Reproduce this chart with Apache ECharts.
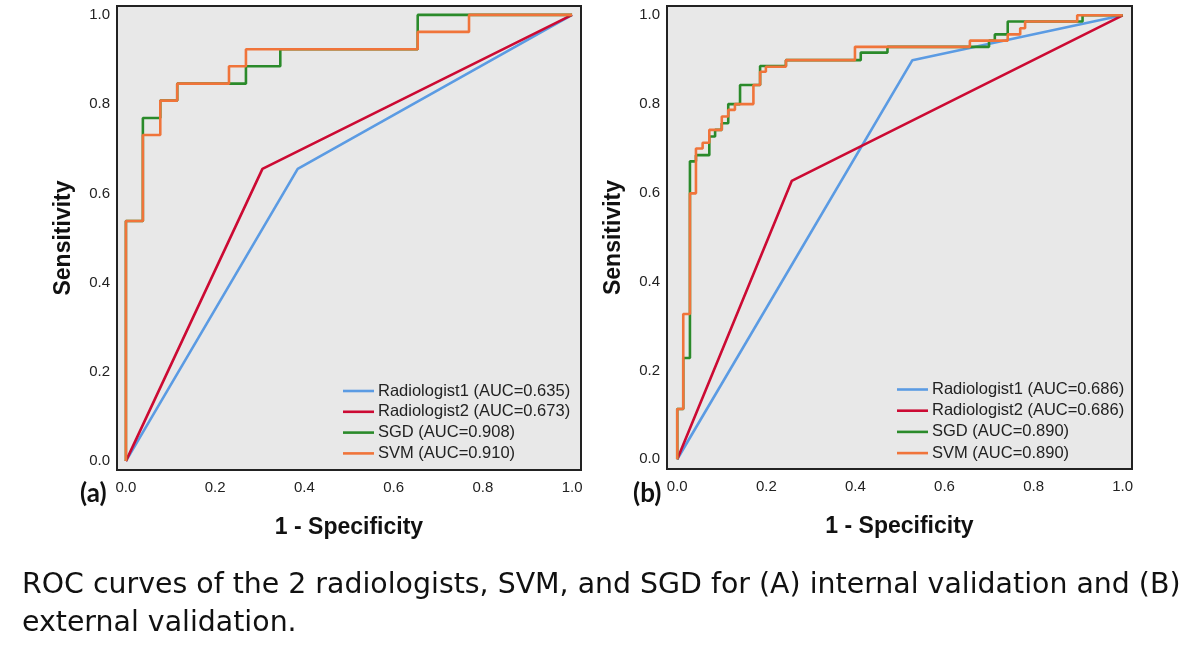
<!DOCTYPE html>
<html>
<head>
<meta charset="utf-8">
<script src="https://cdn.jsdelivr.net/npm/echarts@6/dist/echarts.min.js"></script>
<style>
html,body{margin:0;padding:0;background:#fff;}
#chart{width:1200px;height:667px;}
</style>
</head>
<body>
<div id="chart"></div>
<script>
// ---- data ----
const tickValues = [0, 0.2, 0.4, 0.6, 0.8, 1.0];

const namesA = ['Radiologist1 (AUC=0.635)', 'Radiologist2 (AUC=0.673)', 'SGD (AUC=0.908)', 'SVM (AUC=0.910)'];
const namesB = ['Radiologist1 (AUC=0.686)', 'Radiologist2 (AUC=0.686)', 'SGD (AUC=0.890)', 'SVM (AUC=0.890)'];

// (a) internal validation: [1 - specificity, sensitivity]
const rad1A = [[0, 0], [0.385, 0.655], [1, 1]];
const rad2A = [[0, 0], [0.306, 0.655], [1, 1]];
const sgdA = [[0,0],[0,0.538],[0.038,0.538],[0.038,0.769],[0.077,0.769],[0.077,0.808],[0.115,0.808],[0.115,0.846],
  [0.269,0.846],[0.269,0.885],[0.346,0.885],[0.346,0.923],[0.654,0.923],[0.654,1],[1,1]];
const svmA = [[0,0],[0,0.538],[0.038,0.538],[0.038,0.731],[0.077,0.731],[0.077,0.808],[0.115,0.808],[0.115,0.846],
  [0.231,0.846],[0.231,0.885],[0.269,0.885],[0.269,0.923],[0.654,0.923],[0.654,0.962],[0.769,0.962],[0.769,1],[1,1]];

// (b) external validation
const rad1B = [[0, 0], [0.528, 0.899], [1, 1]];
const rad2B = [[0, 0], [0.257, 0.627], [1, 1]];
const sgdB = [[0,0],[0,0.113],[0.0135,0.113],[0.0135,0.228],[0.0285,0.228],[0.0285,0.671],[0.042,0.671],[0.042,0.685],
  [0.072,0.685],[0.072,0.727],[0.085,0.727],[0.085,0.742],[0.100,0.742],[0.100,0.757],[0.1145,0.757],[0.1145,0.800],
  [0.141,0.800],[0.141,0.843],[0.186,0.843],[0.186,0.886],[0.244,0.886],[0.244,0.899],[0.412,0.899],[0.412,0.916],
  [0.472,0.916],[0.472,0.929],[0.700,0.929],[0.700,0.943],[0.713,0.943],[0.713,0.957],[0.742,0.957],[0.742,0.986],
  [0.910,0.986],[0.910,1],[1,1]];
const svmB = [[0,0],[0,0.113],[0.0135,0.113],[0.0135,0.327],[0.0285,0.327],[0.0285,0.599],[0.042,0.599],[0.042,0.700],
  [0.057,0.700],[0.057,0.713],[0.072,0.713],[0.072,0.742],[0.100,0.742],[0.100,0.772],[0.1145,0.772],[0.1145,0.787],
  [0.1295,0.787],[0.1295,0.800],[0.171,0.800],[0.171,0.843],[0.186,0.843],[0.186,0.873],[0.199,0.873],[0.199,0.884],
  [0.244,0.884],[0.244,0.899],[0.399,0.899],[0.399,0.929],[0.657,0.929],[0.657,0.943],[0.742,0.943],[0.742,0.957],
  [0.770,0.957],[0.770,0.971],[0.781,0.971],[0.781,0.986],[0.898,0.986],[0.898,1],[1,1]];

const colors = ['#5B9BE3', '#CC0A33', '#2A8A2A', '#F0743A'];
const captionLines = ['ROC curves of the 2 radiologists, SVM, and SGD for (A) internal validation and (B)', 'external validation.'];

// ---- chart ----
const chart = echarts.init(document.getElementById('chart'), null, {renderer: 'canvas'});
const F = '"Liberation Sans", Arial, sans-serif';

function xAx(gi, min, max) {
  return {
    type: 'value', gridIndex: gi, min: min, max: max,
    axisLine: {show: false}, axisTick: {show: false}, splitLine: {show: false},
    axisLabel: {customValues: tickValues, formatter: v => v.toFixed(1), color: '#222', fontSize: 15, fontFamily: F, margin: 10},
    name: '1 - Specificity', nameLocation: 'middle', nameGap: 46,
    nameTextStyle: {fontSize: 23, fontWeight: 'bold', color: '#111', fontFamily: F}
  };
}
function yAx(gi, min, max) {
  return {
    type: 'value', gridIndex: gi, min: min, max: max,
    axisLine: {show: false}, axisTick: {show: false}, splitLine: {show: false},
    axisLabel: {customValues: tickValues, formatter: v => v.toFixed(1), color: '#222', fontSize: 15, fontFamily: F, margin: 7},
    name: 'Sensitivity', nameLocation: 'middle', nameGap: 42,
    nameTextStyle: {fontSize: 23, fontWeight: 'bold', color: '#111', fontFamily: F}
  };
}
function ser(name, data, ci, gi) {
  return {
    name: name, type: 'line', data: data, xAxisIndex: gi, yAxisIndex: gi,
    symbol: 'none', showSymbol: false, animation: false,
    lineStyle: {width: 2.6, color: colors[ci]}, itemStyle: {color: colors[ci]}
  };
}
function leg(names, left, top, gap) {
  return {
    data: names, orient: 'vertical', left: left, top: top, padding: 0,
    icon: 'rect', itemWidth: 31, itemHeight: 2.6, itemGap: gap, selectedMode: false,
    textStyle: {fontSize: 16.5, color: '#222', fontFamily: F, padding: [0, 0, 0, -1]}
  };
}

const option = {
  backgroundColor: '#ffffff',
  animation: false,
  grid: [
    {left: 117, top: 6, width: 464, height: 464, show: true, backgroundColor: '#e8e8e8', borderColor: '#222', borderWidth: 2},
    {left: 667, top: 6, width: 465, height: 463, show: true, backgroundColor: '#e8e8e8', borderColor: '#222', borderWidth: 2}
  ],
  xAxis: [xAx(0, -0.02, 1.02), xAx(1, -0.023, 1.021)],
  yAxis: [yAx(0, -0.02, 1.02), yAx(1, -0.022, 1.021)],
  legend: [leg(namesA, 343, 382.5, 3.8), leg(namesB, 897, 381, 4.2)],
  series: [
    ser(namesA[0], rad1A, 0, 0), ser(namesA[1], rad2A, 1, 0), ser(namesA[2], sgdA, 2, 0), ser(namesA[3], svmA, 3, 0),
    ser(namesB[0], rad1B, 0, 1), ser(namesB[1], rad2B, 1, 1), ser(namesB[2], sgdB, 2, 1), ser(namesB[3], svmB, 3, 1)
  ],
  graphic: [
    {type: 'text', left: 80, top: 481, style: {text: '(a)', font: 'bold 26px Lato, sans-serif', fill: '#111'}},
    {type: 'text', left: 633, top: 481, style: {text: '(b)', font: 'bold 26px Lato, sans-serif', fill: '#111'}},
    {type: 'text', left: 22, top: 572, style: {text: captionLines[0], font: '28.4px "DejaVu Sans", sans-serif', fill: '#111'}},
    {type: 'text', left: 22, top: 610, style: {text: captionLines[1], font: '28.4px "DejaVu Sans", sans-serif', fill: '#111'}}
  ]
};
chart.setOption(option);
</script>
</body>
</html>
